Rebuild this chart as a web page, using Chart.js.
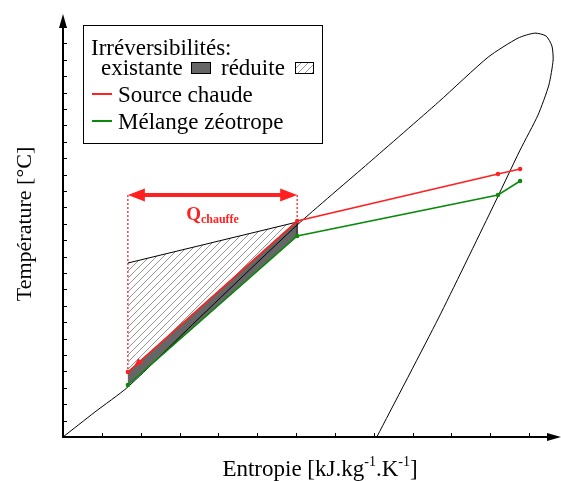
<!DOCTYPE html>
<html>
<head>
<meta charset="utf-8">
<style>
html,body{margin:0;padding:0;background:#fff;}
canvas{display:block;}
</style>
<script src="https://cdn.jsdelivr.net/npm/chart.js@4/dist/chart.umd.min.js"></script>
</head>
<body>
<canvas id="c" width="561" height="481"></canvas>
<script>
// ---- data (arbitrary entropy / temperature units; 1 unit = 1 axis tick) ----
const domeX = [0, 0.82, 1.67, 3.51, 6.03, 7.87, 9.67, 10.95, 11.72, 12.15, 12.44, 12.59, 12.62, 12.51, 12.23, 11.77, 11.03, 9.67, 8.08];
const domeY = [0, 1.52, 3.05, 7.26, 12.93, 16.71, 20.43, 23.17, 24.33, 24.63, 24.45, 23.84, 22.99, 21.46, 19.63, 17.5, 13.84, 7.26, 0];
const sourceX = [1.67, 6.03, 11.2, 11.77];
const sourceY = [3.96, 13.17, 16.04, 16.34];
const mixX = [1.67, 6.03, 11.2, 11.77];
const mixY = [3.17, 12.26, 14.76, 15.61];
const reducedX = [1.67, 6.03, 1.67];
const reducedY = [10.61, 13.11, 3.96];
const existingX = [1.67, 6.03, 6.03, 1.67];
const existingY = [3.96, 13.17, 12.26, 3.17];
const qY = 14.76;
const xTicks = [1,2,3,4,5,6,7,8,9,10,11,12];
const yTicks = [1,2,3,4,5,6,7,8,9,10,11,12,13,14,15,16,17,18,19,20,21,22,23,24,25];
const labels = {
  xTitle: ['Entropie [kJ.kg', '-1', '.K', '-1', ']'],
  yTitle: 'Température [°C]',
  legendTitle: 'Irréversibilités:',
  existing: 'existante',
  reduced: 'réduite',
  source: 'Source chaude',
  mix: 'Mélange zéotrope',
  q: 'Q',
  qSub: 'chauffe'
};

const pts = (xs, ys) => xs.map((x, i) => ({x: x, y: ys[i]}));

// hatch pattern
function hatch() {
  const s = 7;
  const c = document.createElement('canvas');
  c.width = s; c.height = s;
  const g = c.getContext('2d');
  g.fillStyle = '#fff'; g.fillRect(0, 0, s, s);
  g.strokeStyle = '#8a8a8a'; g.lineWidth = 0.9;
  g.beginPath();
  g.moveTo(-1, s + 1); g.lineTo(s + 1, -1);
  g.moveTo(-1, 1); g.lineTo(1, -1);
  g.moveTo(s - 1, s + 1); g.lineTo(s + 1, s - 1);
  g.stroke();
  return g.createPattern(c, 'repeat');
}
const hatchPattern = hatch();
const SERIF = '"Liberation Serif", "DejaVu Serif", serif';

const overlay = {
  id: 'overlay',
  afterDraw(chart) {
    const ctx = chart.ctx;
    const xs = chart.scales.x, ys = chart.scales.y;
    const a = chart.chartArea;
    ctx.save();
    // axes
    ctx.strokeStyle = '#000'; ctx.fillStyle = '#000'; ctx.lineWidth = 2;
    ctx.beginPath();
    ctx.moveTo(a.left, a.bottom); ctx.lineTo(a.left, a.top - 2);
    ctx.moveTo(a.left - 1, a.bottom); ctx.lineTo(a.right - 4, a.bottom);
    ctx.stroke();
    // arrowheads
    ctx.beginPath();
    ctx.moveTo(a.left, a.top - 6); ctx.lineTo(a.left - 4, a.top + 8); ctx.lineTo(a.left + 4, a.top + 8); ctx.closePath(); ctx.fill();
    ctx.beginPath();
    ctx.moveTo(a.right + 4, a.bottom); ctx.lineTo(a.right - 10, a.bottom - 4); ctx.lineTo(a.right - 10, a.bottom + 4); ctx.closePath(); ctx.fill();
    // ticks
    ctx.lineWidth = 1;
    ctx.beginPath();
    xTicks.forEach(t => { const p = Math.round(xs.getPixelForValue(t)) + 0.5; ctx.moveTo(p, a.bottom); ctx.lineTo(p, a.bottom - 4); });
    yTicks.forEach(t => { const p = Math.round(ys.getPixelForValue(t)) + 0.5; ctx.moveTo(a.left, p); ctx.lineTo(a.left + 4, p); });
    ctx.stroke();

    // Q arrow heads
    const y0 = ys.getPixelForValue(qY);
    const xl = xs.getPixelForValue(sourceX[0]), xr = xs.getPixelForValue(sourceX[1]);
    ctx.fillStyle = '#ff2020';
    ctx.beginPath(); ctx.moveTo(xl, y0); ctx.lineTo(xl + 17, y0 - 6.5); ctx.lineTo(xl + 17, y0 + 6.5); ctx.closePath(); ctx.fill();
    ctx.beginPath(); ctx.moveTo(xr, y0); ctx.lineTo(xr - 17, y0 - 6.5); ctx.lineTo(xr - 17, y0 + 6.5); ctx.closePath(); ctx.fill();
    // Q label
    ctx.textBaseline = 'alphabetic';
    ctx.font = 'bold 19px ' + SERIF;
    const qW = ctx.measureText(labels.q).width;
    ctx.font = 'bold 12px ' + SERIF;
    const sW = ctx.measureText(labels.qSub).width;
    const cx = (xl + xr) / 2;
    let sx = cx - (qW + sW) / 2;
    ctx.font = 'bold 19px ' + SERIF;
    ctx.fillText(labels.q, sx, y0 + 25);
    ctx.font = 'bold 12px ' + SERIF;
    ctx.fillText(labels.qSub, sx + qW, y0 + 28);

    // small direction arrow on source line
    const p0 = {x: xs.getPixelForValue(sourceX[0]), y: ys.getPixelForValue(sourceY[0])};
    const p1 = {x: xs.getPixelForValue(sourceX[1]), y: ys.getPixelForValue(sourceY[1])};
    const ang = Math.atan2(p0.y - p1.y, p0.x - p1.x);
    const tip = {x: p0.x + 8 * Math.cos(ang + Math.PI), y: p0.y + 8 * Math.sin(ang + Math.PI)};
    ctx.save();
    ctx.translate(tip.x, tip.y); ctx.rotate(ang);
    ctx.fillStyle = '#ff2020';
    ctx.beginPath(); ctx.moveTo(0, 0); ctx.lineTo(-9, -3.5); ctx.lineTo(-9, 3.5); ctx.closePath(); ctx.fill();
    ctx.restore();

    // axis titles
    ctx.fillStyle = '#000';
    const big = '23px ' + SERIF, small = '14px ' + SERIF;
    const parts = labels.xTitle;
    let tw = 0;
    parts.forEach((s, i) => { ctx.font = (i % 2) ? small : big; tw += ctx.measureText(s).width; });
    let tx = 320 - tw / 2;
    parts.forEach((s, i) => {
      ctx.font = (i % 2) ? small : big;
      ctx.fillText(s, tx, (i % 2) ? 466 : 476);
      tx += ctx.measureText(s).width;
    });
    ctx.save();
    ctx.translate(31, 224); ctx.rotate(-Math.PI / 2);
    ctx.font = '22px ' + SERIF; ctx.textAlign = 'center';
    ctx.fillText(labels.yTitle, 0, 0);
    ctx.restore();

    // legend box
    ctx.fillStyle = '#fff'; ctx.strokeStyle = '#000'; ctx.lineWidth = 1;
    ctx.fillRect(83, 25, 239, 118);
    ctx.strokeRect(83.5, 25.5, 239, 118);
    ctx.fillStyle = '#000';
    ctx.font = '23px ' + SERIF;
    ctx.fillText(labels.legendTitle, 91, 55);
    ctx.fillText(labels.existing, 101, 75);
    ctx.fillText(labels.reduced, 221, 75);
    ctx.fillText(labels.source, 118, 102);
    ctx.fillText(labels.mix, 118, 129);
    ctx.fillStyle = '#666';
    ctx.fillRect(191.5, 62.5, 19, 11); ctx.strokeRect(191.5, 62.5, 19, 11);
    ctx.fillStyle = hatchPattern;
    ctx.fillRect(295.5, 62.5, 18, 11); ctx.strokeRect(295.5, 62.5, 18, 11);
    ctx.lineWidth = 2;
    ctx.strokeStyle = '#ff2020';
    ctx.beginPath(); ctx.moveTo(92, 94); ctx.lineTo(112, 94); ctx.stroke();
    ctx.strokeStyle = '#0a8a0a';
    ctx.beginPath(); ctx.moveTo(92, 121); ctx.lineTo(112, 121); ctx.stroke();
    ctx.restore();
  }
};

new Chart(document.getElementById('c'), {
  type: 'scatter',
  data: {
    datasets: [
      {label: 'source', data: pts(sourceX, sourceY), showLine: true, borderColor: '#ff2020', borderWidth: 1.6, pointRadius: 2.2, pointBackgroundColor: '#ff2020', pointBorderWidth: 0, order: 1},
      {label: 'mix', data: pts(mixX, mixY), showLine: true, borderColor: '#0a8a0a', borderWidth: 1.6, pointRadius: 2.2, pointBackgroundColor: '#0a8a0a', pointBorderWidth: 0, order: 2},
      {label: 'qArrow', data: [{x: sourceX[0] + 0.3, y: qY}, {x: sourceX[1] - 0.3, y: qY}], showLine: true, borderColor: '#ff2020', borderWidth: 4, pointRadius: 0, order: 3},
      {label: 'dashL', data: [{x: sourceX[0], y: qY}, {x: sourceX[0], y: sourceY[0]}], showLine: true, borderColor: '#ff2020', borderWidth: 1.3, borderDash: [2, 2], pointRadius: 0, order: 4},
      {label: 'dashR', data: [{x: sourceX[1], y: qY}, {x: sourceX[1], y: sourceY[1]}], showLine: true, borderColor: '#ff2020', borderWidth: 1.3, borderDash: [2, 2], pointRadius: 0, order: 5},
      {label: 'dome', data: pts(domeX, domeY), showLine: true, borderColor: '#000', borderWidth: 1, tension: 0.22, pointRadius: 0, order: 6},
      {label: 'reducedTop', data: pts(reducedX.slice(0, 2), reducedY.slice(0, 2)), showLine: true, borderColor: '#000', borderWidth: 1, pointRadius: 0, order: 7},
      {label: 'existing', data: pts(existingX, existingY), showLine: true, fill: 'shape', backgroundColor: '#666', borderColor: '#333', borderWidth: 0.8, pointRadius: 0, order: 8},
      {label: 'reduced', data: pts(reducedX, reducedY), showLine: true, fill: 'shape', backgroundColor: hatchPattern, borderWidth: 0, borderColor: 'rgba(0,0,0,0)', pointRadius: 0, order: 9}
    ]
  },
  options: {
    responsive: false,
    devicePixelRatio: 1,
    animation: false,
    layout: {padding: {left: 63, right: 2, top: 20, bottom: 44}},
    scales: {
      x: {type: 'linear', min: 0, max: 12.72, display: false},
      y: {type: 'linear', min: 0, max: 25.43, display: false}
    },
    plugins: {legend: {display: false}, tooltip: {enabled: false}, title: {display: false}}
  },
  plugins: [overlay]
});
</script>
</body>
</html>
